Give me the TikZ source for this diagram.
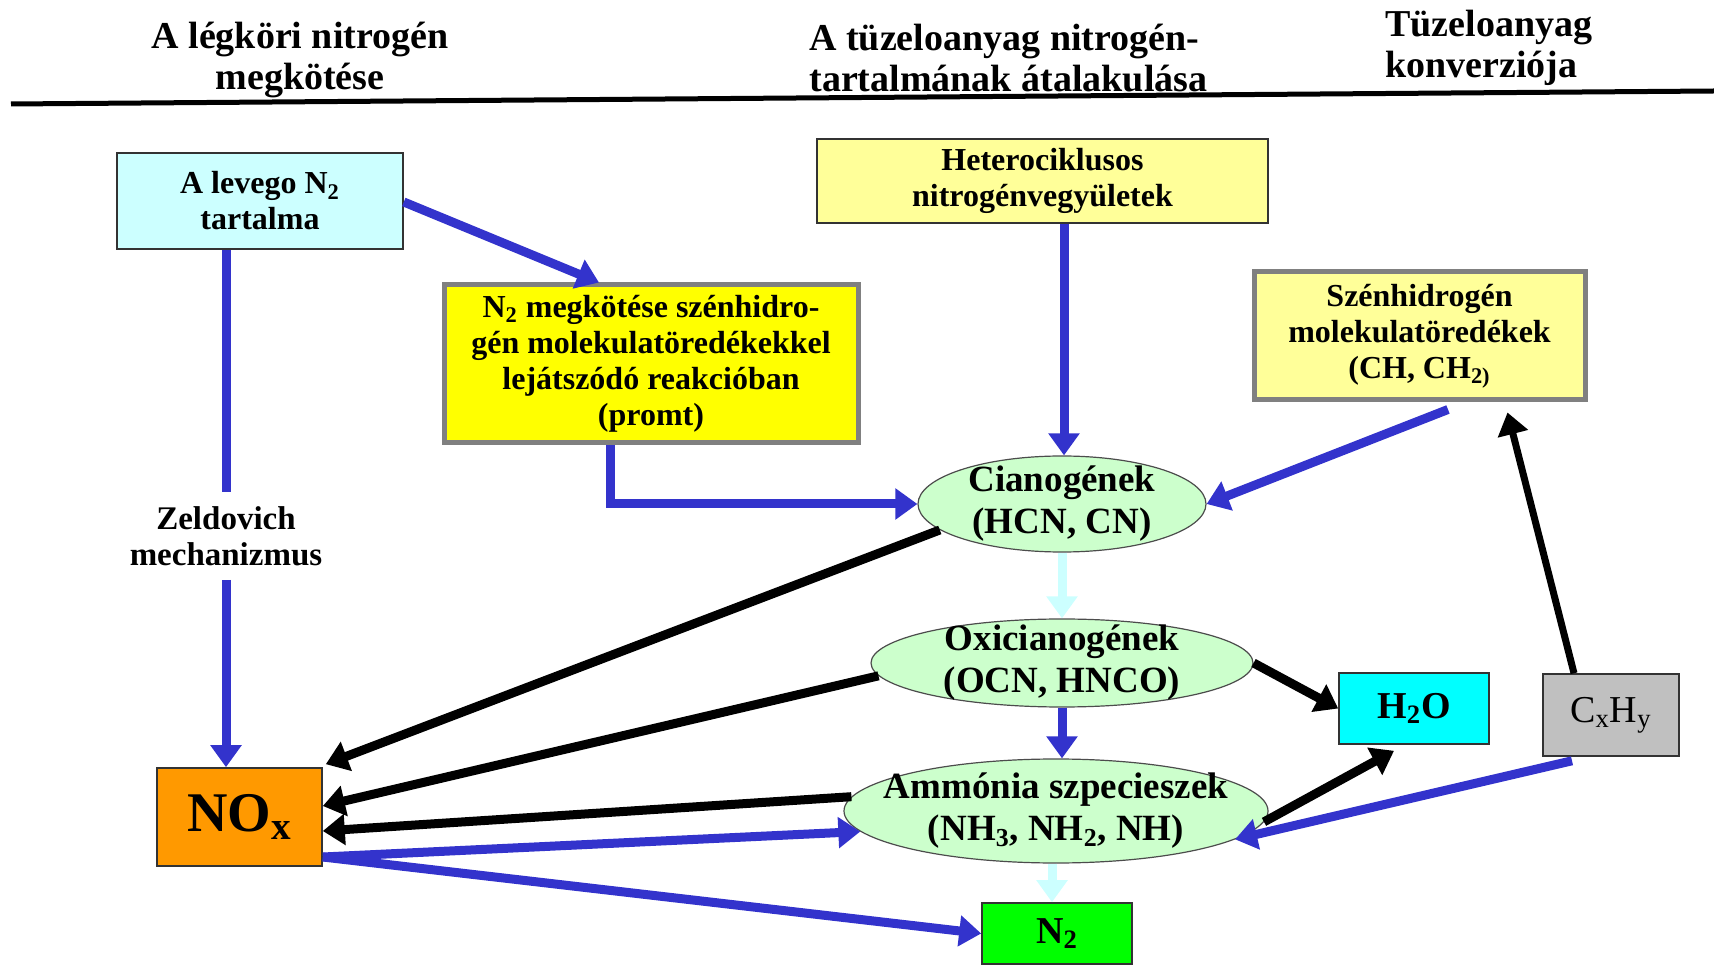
\documentclass[tikz,border=0pt]{standalone}
\usepackage{fontspec}
\setmainfont{Liberation Serif}
\usetikzlibrary{arrows.meta,shapes.geometric,calc}
\definecolor{myblue}{HTML}{3333CC}
\definecolor{lcyan}{HTML}{CCFFFF}
\definecolor{pyellow}{HTML}{FFFF99}
\definecolor{syellow}{HTML}{FFFF00}
\definecolor{lgreen}{HTML}{CCFFCC}
\definecolor{cyanbox}{HTML}{00FFFF}
\definecolor{greybox}{HTML}{C0C0C0}
\definecolor{orangebox}{HTML}{FF9900}
\definecolor{greenbox}{HTML}{00FF00}
\definecolor{bordergray}{HTML}{808080}
\begin{document}
\begin{tikzpicture}[x=0.5pt,y=-0.5pt,
  hdr/.style={inner sep=0pt,font=\fontsize{19}{20.5}\selectfont\bfseries},
  box/.style={draw=black!80,line width=0.8pt,inner sep=0pt,align=center,font=\fontsize{16}{18}\selectfont\bfseries},
  gbox/.style={box,draw=bordergray,line width=2.5pt},
  ell/.style={ellipse,draw=black!70,line width=0.6pt,fill=lgreen,inner xsep=-40pt,inner ysep=-12pt,align=center,font=\fontsize{18.5}{21}\selectfont\bfseries},
  tip/.style={-{Triangle[length=11pt,width=15pt]}},
  barrow/.style={tip,draw=myblue,line width=4.5pt},
  karrow/.style={tip,draw=black,line width=4.5pt},
  carrow/.style={tip,draw=lcyan,line width=4.5pt},
  bline/.style={draw=myblue,line width=4.5pt}
]
\useasboundingbox (0,0) rectangle (1714,967);

% headers
\node[hdr,align=center] (h1) at (300,60) {A légköri nitrogén\\megkötése};
\node[hdr,align=left,anchor=west] (h2) at (809,58) {A tüzeloanyag nitrogén-\\tartalmának átalakulása};
\node[hdr,align=left,anchor=west] (h3) at (1385,48) {Tüzeloanyag\\konverziója};
\coordinate (rl) at (11,104);
\coordinate (rr) at (1714,91);
\draw[line width=2.5pt] (rl) -- (rr);

% boxes
\node[box,fill=lcyan,minimum width=143pt,minimum height=48pt] (levego) at (260,201) {A levego N\textsubscript{2}\\tartalma};
\node[box,fill=pyellow,minimum width=225.5pt,minimum height=42pt] (hetero) at (1042.5,181) {Heterociklusos\\nitrogénvegyületek};
\node[gbox,fill=syellow,minimum width=207pt,minimum height=79pt] (n2meg) at (651,364) {N\textsubscript{2} megkötése szénhidro-\\gén molekulatöredékekkel\\lejátszódó reakcióban\\(promt)};
\node[gbox,fill=pyellow,minimum width=165.5pt,minimum height=64pt] (szenh) at (1419.5,336) {Szénhidrogén\\molekulatöredékek\\(CH, CH\textsubscript{2)}};
\node[inner sep=0pt,align=center,minimum height=43.5pt,font=\fontsize{16.5}{18}\selectfont\bfseries] (zel) at (226,536) {Zeldovich\\mechanizmus};

% ellipses
\node[ell,minimum width=144pt,minimum height=48pt] (cian) at (1062,504) {Cianogének\\(HCN, CN)};
\node[ell,minimum width=191pt,minimum height=44pt] (oxi) at (1062,663) {Oxicianogének\\(OCN, HNCO)};
\node[ell,minimum width=212pt,minimum height=52pt] (amm) at (1056,811) {Ammónia szpecieszek\\(NH\textsubscript{3}, NH\textsubscript{2}, NH)};

% small boxes
\node[box,fill=cyanbox,minimum width=75pt,minimum height=35.5pt,font=\fontsize{19}{21}\selectfont\bfseries] (h2o) at (1414,708.5) {H\textsubscript{2}O};
\node[box,fill=greybox,minimum width=68pt,minimum height=41pt,font=\fontsize{19}{21}\selectfont] (cxhy) at (1611,715) {C\textsubscript{x}H\textsubscript{y}};
\node[box,fill=orangebox,minimum width=82.5pt,minimum height=49pt,font=\fontsize{28}{30}\selectfont\bfseries] (nox) at (239.5,817) {NO\textsubscript{x}};
\node[box,fill=greenbox,minimum width=75pt,minimum height=30.5pt,font=\fontsize{19}{21}\selectfont\bfseries] (n2) at (1057,933.5) {N\textsubscript{2}};

% blue connectors
\draw[bline] (levego.south -| zel.north) -- (zel.north);
\draw[barrow] (zel.south) -- (zel.south |- nox.north);
\draw[barrow] ([yshift=-0.5pt]levego.east) -- ([xshift=-26pt]n2meg.north);
\draw[barrow] ([xshift=-20.5pt]n2meg.south) |- (cian.west);
\draw[barrow] ([xshift=10.75pt]hetero.south) -- ([xshift=10.75pt]hetero.south |- cian.north);
\draw[barrow] ([xshift=14.25pt,yshift=-3.5pt]szenh.south) -- (cian.east);
\draw[barrow] (oxi.south) -- (oxi.south |- amm.north);
\draw[barrow] ([xshift=-19.5pt,yshift=-2pt]cxhy.south) -- (amm.-9);
\draw[barrow] ([yshift=-20pt]nox.east) -- (amm.186);
\draw[barrow] ([yshift=-20pt]nox.east) -- (n2.west);

% light cyan connectors
\draw[carrow] (cian.south) -- (cian.south |- oxi.north);
\draw[carrow] ([xshift=-2pt]amm.south) -- ([xshift=-2pt]amm.south |- n2.north);

% black connectors
\draw[karrow] (cian.192) -- ([xshift=1.5pt,yshift=1.5pt]nox.north east);
\draw[karrow] (oxi.184) -- ([yshift=5.5pt]nox.east);
\draw[karrow] (amm.176) -- ([yshift=-7pt]nox.east);
\draw[karrow] (oxi.0) -- (h2o.west);
\draw[karrow] (amm.-3) -- ([xshift=-10pt,yshift=-3pt]h2o.south);
\draw[karrow,line width=3.5pt] ([xshift=-18.5pt]cxhy.north) -- ([xshift=44pt,yshift=-5pt]szenh.south);
\end{tikzpicture}
\end{document}
